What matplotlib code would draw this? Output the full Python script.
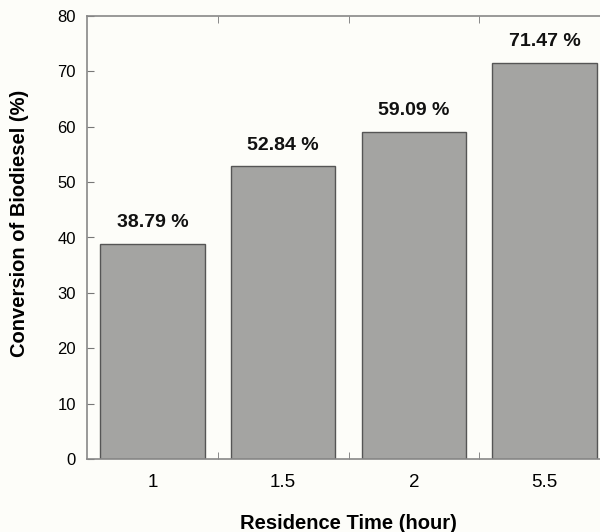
import matplotlib
matplotlib.use("Agg")
import matplotlib.pyplot as plt
import numpy as np

plt.rcParams['font.family'] = ['Liberation Sans', 'DejaVu Sans']

times = ["1", "1.5", "2", "5.5"]
conversion = [38.79, 52.84, 59.09, 71.47]

bg = "#fdfdf9"
fig = plt.figure(figsize=(6.0, 5.32), dpi=100, facecolor=bg)
# axes deliberately runs past the right edge like the cropped original
ax = fig.add_axes([87 / 600, 73 / 532, 523 / 600, 443 / 532], facecolor=bg)

x = np.arange(len(times))
bars = ax.bar(x, conversion, width=0.8, color="#a4a4a2", edgecolor="#555555", linewidth=1.0, zorder=2)

for b, v in zip(bars, conversion):
    ax.text(b.get_x() + b.get_width() / 2, v + 2.3, "%.2f %%" % v,
            ha="center", va="bottom", fontsize=14, fontweight="bold", color="#111111")

ax.set_xlim(-0.5, len(times) - 0.5)
ax.set_ylim(0, 80)
ax.set_yticks(np.arange(0, 81, 10))
ax.set_xticks(x)
ax.set_xticklabels(times)
ax.set_xticks(np.arange(0.5, len(times) - 0.5, 1), minor=True)

ax.tick_params(axis="x", which="major", length=0, labelsize=13.5, pad=10.5)
ax.tick_params(axis="x", which="minor", direction="in", length=5, top=True, color="#777777")
ax.tick_params(axis="y", direction="in", length=5, labelsize=12, color="#777777", pad=8)

for s in ax.spines.values():
    s.set_color("#888888")
    s.set_linewidth(1.2)

ax.set_xlabel("Residence Time (hour)", fontsize=14.5, fontweight="bold")
ax.set_ylabel("Conversion of Biodiesel (%)", fontsize=14.5, fontweight="bold")
ax.xaxis.set_label_coords(0.5, -0.124)
ax.yaxis.set_label_coords(-0.111, 0.533)

fig.savefig("out.png", dpi=100, facecolor=bg)
